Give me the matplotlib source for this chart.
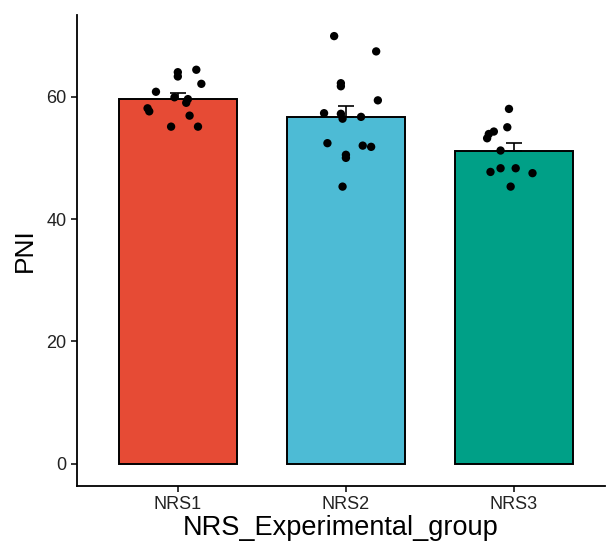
import numpy as np
import matplotlib.pyplot as plt

plt.rcParams['font.family'] = ['Liberation Sans', 'DejaVu Sans']

groups = ['NRS1', 'NRS2', 'NRS3']
colors = ['#E64B35', '#4DBBD5', '#00A087']

# PNI of each subject, with its horizontal position inside the group
nrs1 = [64.4, 64.0, 63.3, 62.1, 60.8, 59.9, 59.6, 59.0, 58.1, 57.6, 56.9, 55.1, 55.1]
nrs1_x = [1.11, 1.00, 1.00, 1.14, 0.87, 0.98, 1.06, 1.05, 0.82, 0.83, 1.07, 0.96, 1.12]
nrs2 = [69.9, 67.4, 62.2, 61.7, 59.4, 57.3, 57.2, 56.4, 56.7, 52.4, 52.0, 51.8, 50.5, 50.0, 45.3]
nrs2_x = [1.93, 2.18, 1.97, 1.97, 2.19, 1.87, 1.97, 1.98, 2.09, 1.89, 2.10, 2.15, 2.00, 2.00, 1.98]
nrs3 = [58.0, 55.0, 54.3, 53.9, 53.2, 51.2, 47.7, 48.3, 48.3, 47.5, 45.3]
nrs3_x = [2.97, 2.96, 2.88, 2.85, 2.84, 2.92, 2.86, 2.92, 3.01, 3.11, 2.98]

values = [nrs1, nrs2, nrs3]
xs = [nrs1_x, nrs2_x, nrs3_x]

means = [np.mean(v) for v in values]
ses = [np.std(v, ddof=1) / np.sqrt(len(v)) for v in values]
pos = np.arange(1, len(groups) + 1)

fig = plt.figure(figsize=(6.06, 5.44), dpi=100)
ax = fig.add_axes([0.127, 0.107, 0.871, 0.866])

ax.bar(pos, means, width=0.7, color=colors, edgecolor='black', linewidth=1.4, zorder=2)
ax.errorbar(pos, means, yerr=[np.zeros(3), ses], fmt='none', ecolor='black',
            elinewidth=1.2, capsize=6, capthick=1.2, zorder=3)
for x, v in zip(xs, values):
    ax.scatter(x, v, s=36, color='black', edgecolors='none', zorder=4)

ax.set_xlim(0.4, 3.54)
ax.set_ylim(-3.6, 73.4)
ax.set_xticks(pos)
ax.set_xticklabels(groups)
ax.set_yticks([0, 20, 40, 60])
ax.tick_params(axis='both', labelsize=13, length=4, width=1.1, color='black', labelcolor='#222222')

for side in ['top', 'right']:
    ax.spines[side].set_visible(False)
for side in ['left', 'bottom']:
    ax.spines[side].set_linewidth(1.3)

ax.set_xlabel('NRS_Experimental_group', fontsize=19.5, labelpad=1)
ax.set_ylabel('PNI', fontsize=19, labelpad=7)

fig.savefig('out.png', dpi=100)
